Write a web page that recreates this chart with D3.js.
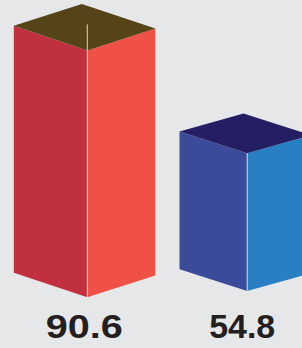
<!DOCTYPE html>
<html>
<head>
<meta charset="utf-8">
<script src="https://cdn.jsdelivr.net/npm/d3@7"></script>
<style>
  html, body { margin: 0; padding: 0; background: #e6e7e9; }
  svg { display: block; }
</style>
</head>
<body>
<div id="chart"></div>
<script>
// data
const categories = ['A', 'B']
const values = [90.6, 54.8]
const labels = ['90.6', '54.8']

// colours per bar: left face, right face, top face
const leftColors = ['#c0303f', '#3c4a9a']
const rightColors = ['#ef5147', '#2880c3']
const topColors = ['#544418', '#241f63']

const W = 302, H = 348

// prism shape per bar (slight perspective, so each bar differs a little)
const shape = [
    { base: 297.3, wl: 73.5, wr: 68, sl: 0.335, sr: 0.32, lineExtra: 26, labelW: 77, labelDx: -3 },
    { base: 291, wl: 67.7, wr: 64, sl: 0.32, sr: 0.28, lineExtra: 0, labelW: 66, labelDx: -5 }
]

const svg = d3.select('#chart').append('svg')
    .attr('width', W).attr('height', H)

svg.append('rect').attr('width', W).attr('height', H).attr('fill', '#e6e7e9')

const x = d3.scalePoint().domain(categories).range([87.3, 247.2])
// total visual height of the prism (back top corner to front bottom corner)
const y = d3.scaleLinear().domain([0, 90.6]).range([0, 293.3])

const pts = p => p.map(q => q.join(',')).join(' ')

categories.forEach((c, i) => {
    const s = shape[i]
    const cx = x(c)
    const depth = s.wl * s.sl + s.wr * s.sr
    const ft = s.base - y(values[i]) + depth   // front top corner
    const g = svg.append('g').attr('class', 'bar3d')

    // left face
    g.append('polygon')
        .attr('points', pts([[cx - s.wl, ft - s.wl * s.sl], [cx, ft], [cx, s.base], [cx - s.wl, s.base - s.wl * s.sl]]))
        .attr('fill', leftColors[i])
    // right face
    g.append('polygon')
        .attr('points', pts([[cx, ft], [cx + s.wr, ft - s.wr * s.sr], [cx + s.wr, s.base - s.wr * s.sr], [cx, s.base]]))
        .attr('fill', rightColors[i])
    // top
    g.append('polygon')
        .attr('points', pts([[cx, ft], [cx - s.wl, ft - s.wl * s.sl], [cx - s.wl + s.wr, ft - depth], [cx + s.wr, ft - s.wr * s.sr]]))
        .attr('fill', topColors[i])
    // front edge highlight
    g.append('line')
        .attr('x1', cx).attr('x2', cx)
        .attr('y1', ft - s.lineExtra).attr('y2', s.base)
        .attr('stroke', '#d9d4d2').attr('stroke-width', 1)

    svg.append('text')
        .attr('x', cx + s.labelDx)
        .attr('y', 338)
        .attr('text-anchor', 'middle')
        .attr('font-family', 'Liberation Sans, Arial, sans-serif')
        .attr('font-weight', 'bold')
        .attr('font-size', 33)
        .attr('fill', '#231f20')
        .attr('textLength', s.labelW)
        .attr('lengthAdjust', 'spacingAndGlyphs')
        .text(labels[i])
})
</script>
</body>
</html>
